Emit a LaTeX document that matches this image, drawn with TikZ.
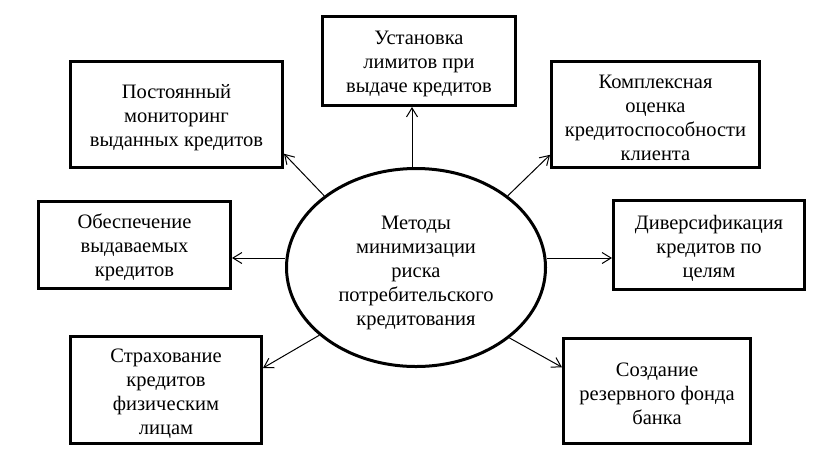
\documentclass[tikz,border=0pt]{standalone}
\usepackage{fontspec}
\setmainfont{Liberation Serif}
\usetikzlibrary{arrows.meta,shapes.geometric,calc}
\newcommand{\topstrutA}{\rule{0pt}{20pt}}
\newcommand{\topstrutB}{\rule{0pt}{24pt}}
\begin{document}
\begin{tikzpicture}[x=1pt,y=-1pt,
  box/.style={draw,line width=3pt,align=center,inner sep=0pt,
    font=\fontsize{20.5}{24}\selectfont},
  ell/.style={draw,ellipse,line width=3pt,align=center,inner sep=0pt,
    font=\fontsize{20.5}{24}\selectfont},
  arr/.style={-{Straight Barb[length=9pt,width=11pt]},line width=1pt}]
\useasboundingbox (0,0) rectangle (832,467);
\node[ell,minimum width=259,minimum height=198] (ell) at (416,267.5)
  {\topstrutB Методы\\минимизации\\риска\\потребительского\\кредитования};
\node[box,minimum width=212,minimum height=106] (mon) at (176.5,114.5)
  {\topstrutA Постоянный\\мониторинг\\выданных кредитов};
\node[box,minimum width=193,minimum height=89] (ust) at (419,61)
  {\topstrutA Установка\\лимитов при\\выдаче кредитов};
\node[box,minimum width=208,minimum height=106] (kom) at (655.5,114.5)
  {\topstrutA Комплексная\\оценка\\кредитоспособности\\клиента};
\node[box,minimum width=192,minimum height=87] (obe) at (134.5,245)
  {\topstrutA Обеспечение\\выдаваемых\\кредитов};
\node[box,minimum width=191,minimum height=89] (div) at (709,245)
  {\topstrutA Диверсификация\\кредитов по\\целям};
\node[box,minimum width=191,minimum height=107] (str) at (166,390)
  {\topstrutA Страхование\\кредитов\\физическим\\лицам};
\node[box,minimum width=187,minimum height=105] (soz) at (657,391)
  {\topstrutA Создание\\резервного фонда\\банка};
\draw[arr] (ell.142.3) -- ($(mon.south east)!0.14!(mon.north east)$);
\draw[arr] ([xshift=-4pt]ell.north) -- ([xshift=-4pt]ell.north |- ust.south);
\draw[arr] (ell.38.7) -- ($(kom.south west)!0.13!(kom.north west)$);
\draw[arr] ([yshift=9.5pt]ell.west) -- ([yshift=9.5pt]ell.west -| obe.east);
\draw[arr] ([yshift=9.5pt]ell.east) -- ([yshift=9.5pt]ell.east -| div.west);
\draw[arr] (ell.215.8) -- ($(str.north east)!0.3!(str.south east)$);
\draw[arr] (ell.323.6) -- ($(soz.north west)!0.28!(soz.south west)$);
\end{tikzpicture}
\end{document}
